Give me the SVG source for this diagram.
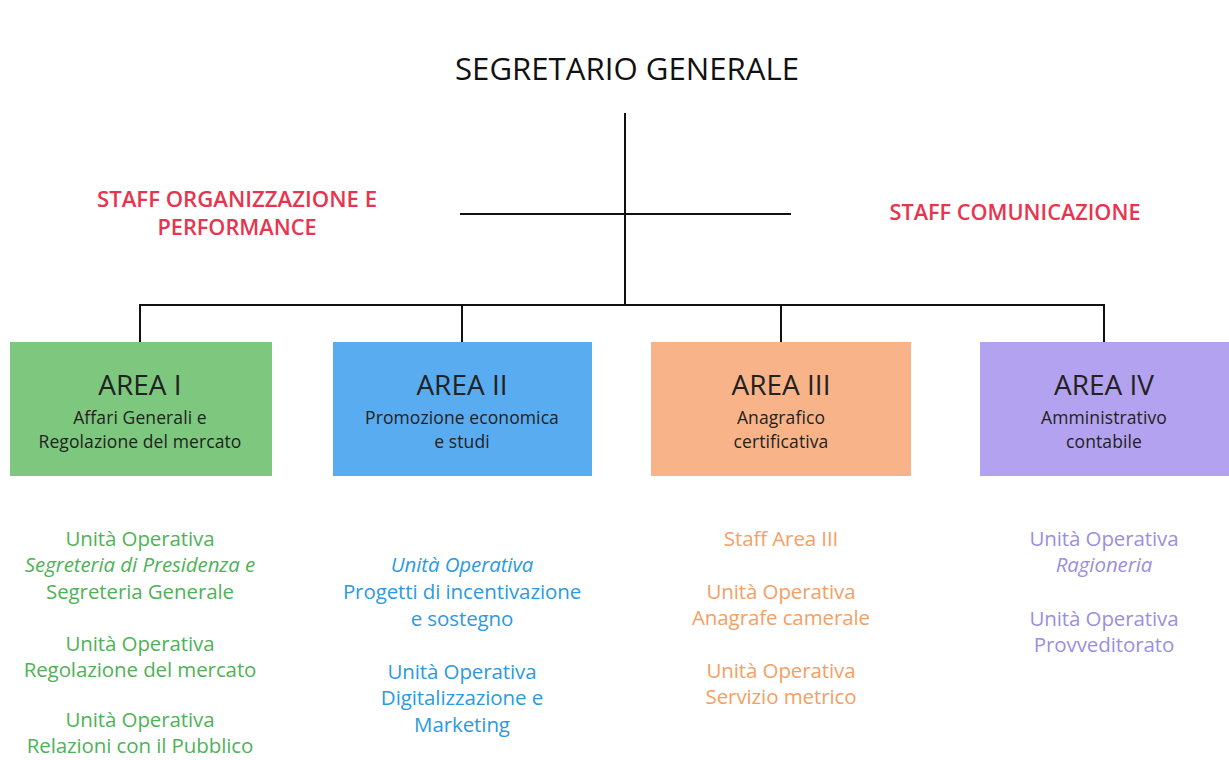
<svg xmlns="http://www.w3.org/2000/svg" width="1229" height="760" viewBox="0 0 1229 760">
<style>
text{font-family:"Open Sans","Noto Sans","Liberation Sans",sans-serif;text-anchor:middle}
.title{font-size:31px;fill:#111}
.staff{font-size:22px;fill:#e8344e;font-weight:600}
.an{font-size:28px;fill:#222}
.as{font-size:17.5px;fill:#222;letter-spacing:0.1px}
.u{font-size:20.5px;letter-spacing:-0.1px}
.g{fill:#4fb257}.b{fill:#2c9ae0}.o{fill:#f4a064}.p{fill:#9a8fe0}
.it{font-style:italic}
.ln{stroke:#111;stroke-width:2;fill:none}
</style>
<rect width="1229" height="760" fill="#ffffff"/>
<g id="connectors">
<line class="ln" x1="625" y1="113" x2="625" y2="306"/>
<line class="ln" x1="460" y1="214" x2="791" y2="214"/>
<line class="ln" x1="140" y1="305" x2="1104" y2="305"/>
<line class="ln" x1="140" y1="304" x2="140" y2="343"/>
<line class="ln" x1="462" y1="304" x2="462" y2="343"/>
<line class="ln" x1="781" y1="304" x2="781" y2="343"/>
<line class="ln" x1="1104" y1="304" x2="1104" y2="343"/>
</g>
<g id="segretario"><text class="title" x="627" y="80" textLength="344" lengthAdjust="spacingAndGlyphs">SEGRETARIO GENERALE</text></g>
<g id="staff-org"><text class="staff" x="237" y="207" textLength="280" lengthAdjust="spacingAndGlyphs">STAFF ORGANIZZAZIONE E</text><text class="staff" x="237" y="235" textLength="159" lengthAdjust="spacingAndGlyphs">PERFORMANCE</text></g>
<g id="staff-com"><text class="staff" x="1015" y="220" textLength="251" lengthAdjust="spacingAndGlyphs">STAFF COMUNICAZIONE</text></g>
<g id="area1"><rect x="10" y="342" width="262" height="134" fill="#7ec77e"/>
<text class="an" x="140" y="395">AREA I</text><text class="as" x="140" y="424">Affari Generali e</text><text class="as" x="140" y="448">Regolazione del mercato</text></g>
<g id="area2"><rect x="333" y="342" width="259" height="134" fill="#5aacf0"/>
<text class="an" x="462" y="395">AREA II</text><text class="as" x="462" y="424">Promozione economica</text><text class="as" x="462" y="448">e studi</text></g>
<g id="area3"><rect x="651" y="342" width="260" height="134" fill="#f9b388"/>
<text class="an" x="781" y="395">AREA III</text><text class="as" x="781" y="424">Anagrafico</text><text class="as" x="781" y="448">certificativa</text></g>
<g id="area4"><rect x="980" y="342" width="249" height="134" fill="#b3a2ef"/>
<text class="an" x="1104" y="395">AREA IV</text><text class="as" x="1104" y="424">Amministrativo</text><text class="as" x="1104" y="448">contabile</text></g>
<g id="uo-area1">
<text class="u g" x="140" y="546">Unità Operativa</text>
<text class="u g it" x="140" y="572">Segreteria di Presidenza e</text>
<text class="u g" x="140" y="599">Segreteria Generale</text>
<text class="u g" x="140" y="651">Unità Operativa</text>
<text class="u g" x="140" y="677">Regolazione del mercato</text>
<text class="u g" x="140" y="727">Unità Operativa</text>
<text class="u g" x="140" y="753">Relazioni con il Pubblico</text>
</g>
<g id="uo-area2">
<text class="u b it" x="462" y="572">Unità Operativa</text>
<text class="u b" x="462" y="599">Progetti di incentivazione</text>
<text class="u b" x="462" y="626">e sostegno</text>
<text class="u b" x="462" y="679">Unità Operativa</text>
<text class="u b" x="462" y="705">Digitalizzazione e</text>
<text class="u b" x="462" y="732">Marketing</text>
</g>
<g id="uo-area3">
<text class="u o" x="781" y="546">Staff Area III</text>
<text class="u o" x="781" y="599">Unità Operativa</text>
<text class="u o" x="781" y="625">Anagrafe camerale</text>
<text class="u o" x="781" y="678">Unità Operativa</text>
<text class="u o" x="781" y="704">Servizio metrico</text>
</g>
<g id="uo-area4">
<text class="u p" x="1104" y="546">Unità Operativa</text>
<text class="u p it" x="1104" y="572">Ragioneria</text>
<text class="u p" x="1104" y="626">Unità Operativa</text>
<text class="u p" x="1104" y="652">Provveditorato</text>
</g>
</svg>
